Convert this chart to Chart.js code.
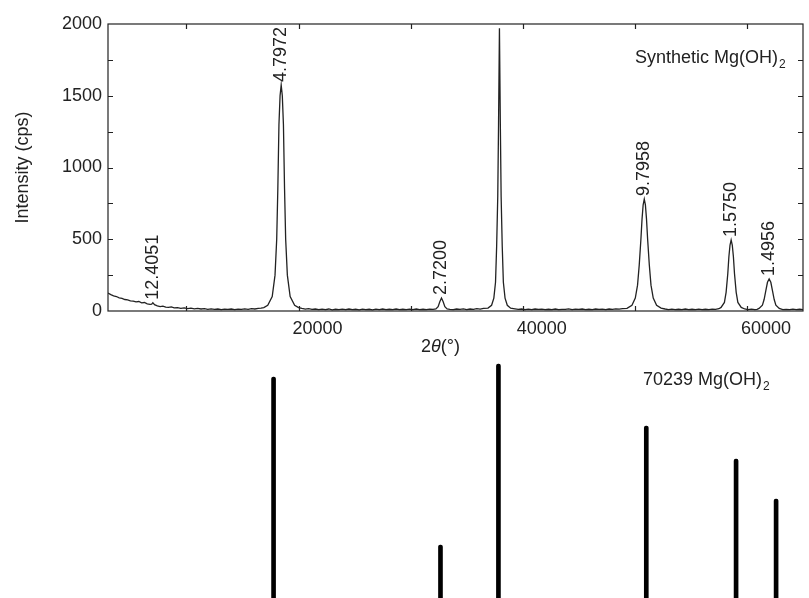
<!DOCTYPE html>
<html>
<head>
<meta charset="utf-8">
<script src="https://cdn.jsdelivr.net/npm/chart.js@4.4.0/dist/chart.umd.min.js"></script>
<style>
  body { margin: 0; background: #fff; }
  #wrap { position: relative; width: 809px; height: 598px; overflow: hidden; }
  #pattern { position: absolute; left: 0; top: 0; }
  #sticks { position: absolute; left: 0; top: 360px; }
</style>
</head>
<body>
<div id="wrap">
  <canvas id="pattern" width="809" height="360"></canvas>
  <canvas id="sticks" width="809" height="238"></canvas>
</div>
<script>
// measured pattern: [2theta x 1000, counts]
const pattern = [
  [3000, 125], [3250, 114], [3500, 106], [3750, 101], [4000, 92], [4250, 88], [4500, 80],
  [4750, 78], [5000, 71], [5250, 69], [5500, 64], [5750, 66], [6000, 57], [6250, 59],
  [6500, 50], [6750, 46], [6900, 48], [7000, 58], [7150, 44], [7400, 36], [7650, 31],
  [7900, 34], [8150, 27], [8400, 25], [8650, 28], [8900, 22], [9200, 24], [9500, 19],
  [9800, 22], [10100, 17], [10400, 20], [10700, 15], [11000, 18], [11300, 14], [11600, 17],
  [11900, 12], [12200, 15], [12500, 11], [12800, 14], [13100, 10], [13400, 13], [13700, 11],
  [14000, 14], [14300, 10], [14600, 13], [14900, 11], [15200, 15], [15500, 12], [15800, 16],
  [16100, 14], [16400, 18], [16650, 20], [16900, 24], [17250, 40], [17650, 100], [17900, 250],
  [18050, 500], [18150, 850], [18250, 1300], [18350, 1500], [18450, 1575], [18550, 1500],
  [18650, 1300], [18750, 850], [18850, 500], [19000, 250], [19250, 100], [19650, 40],
  [20000, 24], [20300, 18], [20600, 13], [20900, 16], [21200, 11], [21500, 14], [21800, 9],
  [22100, 13], [22400, 10], [22700, 14], [23000, 8], [23300, 12], [23600, 10], [23900, 13],
  [24200, 9], [24500, 14], [24800, 10], [25100, 12], [25400, 8], [25700, 13], [26000, 10],
  [26300, 12], [26600, 8], [26900, 13], [27200, 10], [27500, 14], [27800, 9], [28100, 12],
  [28400, 10], [28700, 14], [29000, 9], [29300, 12], [29600, 10], [29900, 13], [30200, 9],
  [30500, 14], [30800, 10], [31100, 12], [31400, 9], [31700, 13], [32000, 11], [32250, 15],
  [32450, 30], [32600, 65], [32750, 90], [32900, 65], [33050, 30], [33250, 15], [33500, 12],
  [33800, 9], [34100, 14], [34400, 11], [34700, 15], [35000, 10], [35300, 14], [35600, 12],
  [35900, 16], [36200, 13], [36500, 18], [36900, 20], [37220, 40], [37420, 90], [37570, 200],
  [37670, 450], [37770, 800], [37840, 1300], [37920, 1970], [38000, 1300], [38070, 800],
  [38170, 450], [38270, 200], [38420, 90], [38620, 40], [38920, 20], [39300, 15], [39600, 11],
  [39900, 14], [40200, 10], [40500, 13], [40800, 9], [41100, 14], [41400, 11], [41700, 13],
  [42000, 9], [42300, 12], [42600, 10], [42900, 14], [43200, 9], [43500, 12], [43800, 11],
  [44100, 15], [44400, 10], [44700, 13], [45000, 11], [45300, 14], [45600, 9], [45900, 12],
  [46200, 10], [46500, 14], [46800, 11], [47100, 13], [47400, 10], [47700, 14], [48000, 12],
  [48300, 15], [48600, 13], [48900, 16], [49300, 18], [49740, 40], [50040, 90], [50240, 180],
  [50390, 320], [50540, 500], [50640, 640], [50740, 740], [50840, 780], [50940, 740],
  [51040, 640], [51140, 500], [51290, 320], [51440, 180], [51640, 90], [51940, 40],
  [52340, 20], [52700, 14], [53000, 10], [53300, 13], [53600, 9], [53900, 12], [54200, 10],
  [54500, 14], [54800, 9], [55100, 12], [55400, 10], [55700, 13], [56000, 9], [56300, 12],
  [56600, 10], [56900, 13], [57200, 12], [57500, 16], [57690, 25], [57990, 60], [58140, 130],
  [58290, 260], [58390, 380], [58490, 460], [58590, 495], [58690, 460], [58790, 380],
  [58890, 260], [59040, 130], [59190, 60], [59490, 25], [59800, 14], [60100, 10], [60400, 13],
  [60700, 9], [60900, 12], [61080, 18], [61380, 40], [61530, 80], [61680, 140], [61830, 200],
  [61980, 223], [62130, 200], [62280, 140], [62430, 80], [62580, 40], [62880, 18], [63200, 10],
  [63500, 12], [63800, 10], [64100, 13], [64400, 9], [64700, 12], [65000, 10],
];

// labelled peaks (d-spacing text at peak position)
const peakLabels = ["12.4051", "4.7972", "2.7200", "9.7958", "1.5750", "1.4956"];
const peakPos = [7000, 18450, 32750, 50840, 58590, 61980];
const peakTop = [58, 1575, 90, 780, 495, 223];

// reference card 70239 sticks
const stickPos = [17770, 32660, 37830, 51020, 59030, 62600];
const stickInt = [94.4, 22.6, 100, 73.5, 59.4, 42.3];

// ticks
const xTickLabels = [20000, 40000, 60000];
const xMinorTicks = [10000, 20000, 30000, 40000, 50000, 60000];
const yTickLabels = [0, 500, 1000, 1500, 2000];
const yMinorTicks = [250, 500, 750, 1000, 1250, 1500, 1750];

const ink = "#222";
const family = "'Liberation Sans', Arial, Helvetica, sans-serif";
const font = { family: family, size: 18 };

function drawChem(ctx, main, sub, x, y) {
  ctx.font = "18px " + family;
  ctx.textAlign = "left";
  ctx.textBaseline = "middle";
  ctx.fillText(main, x, y);
  const w = ctx.measureText(main).width;
  ctx.font = "12px " + family;
  ctx.fillText(sub, x + w + 1, y + 7);
}

const framePlugin = {
  id: "frame",
  afterDraw(chart) {
    const { ctx, chartArea: a, scales: { x, y } } = chart;
    ctx.save();
    ctx.strokeStyle = ink;
    ctx.lineWidth = 1.2;
    ctx.strokeRect(a.left, a.top, a.right - a.left, a.bottom - a.top);
    ctx.beginPath();
    xMinorTicks.forEach((v) => {
      const px = Math.round(x.getPixelForValue(v)) + 0.5;
      ctx.moveTo(px, a.bottom); ctx.lineTo(px, a.bottom - 5);
      ctx.moveTo(px, a.top); ctx.lineTo(px, a.top + 5);
    });
    yMinorTicks.forEach((v) => {
      const py = Math.round(y.getPixelForValue(v)) + 0.5;
      ctx.moveTo(a.left, py); ctx.lineTo(a.left + 5, py);
      ctx.moveTo(a.right, py); ctx.lineTo(a.right - 5, py);
    });
    ctx.stroke();
    ctx.restore();
  },
};

const labelPlugin = {
  id: "labels",
  afterDraw(chart) {
    const { ctx, chartArea: a, scales: { x, y } } = chart;
    ctx.save();
    ctx.fillStyle = ink;
    // peak d-spacings, rotated
    ctx.font = "18px " + family;
    peakLabels.forEach((t, i) => {
      const px = x.getPixelForValue(peakPos[i]);
      const py = y.getPixelForValue(peakTop[i]) - 3;
      ctx.save();
      ctx.translate(px, py);
      ctx.rotate(-Math.PI / 2);
      ctx.textAlign = "left";
      ctx.textBaseline = "middle";
      ctx.fillText(t, 0, 0);
      ctx.restore();
    });
    drawChem(ctx, "Synthetic Mg(OH)", "2", a.right - 168, a.top + 34);

    // x title 2θ(°) with italic theta
    const ty = a.bottom + 36;
    let tx = 421;
    ctx.textAlign = "left";
    ctx.textBaseline = "middle";
    ctx.font = "18px " + family;
    ctx.fillText("2", tx, ty);
    tx += ctx.measureText("2").width;
    ctx.font = "italic 18px " + family;
    ctx.fillText("θ", tx, ty);
    tx += ctx.measureText("θ").width;
    ctx.font = "18px " + family;
    ctx.fillText("(°)", tx, ty);
    ctx.restore();
  },
};

new Chart(document.querySelector("#pattern"), {
  type: "line",
  data: {
    datasets: [
      {
        data: pattern.map((p) => ({ x: p[0], y: p[1] })),
        borderColor: ink,
        borderWidth: 1.3,
        pointRadius: 0,
        tension: 0,
      },
    ],
  },
  options: {
    responsive: false,
    animation: false,
    layout: { padding: { left: 12, top: 24, right: 6, bottom: 0 } },
    plugins: { legend: { display: false }, tooltip: { enabled: false } },
    scales: {
      x: {
        type: "linear",
        min: 3000,
        max: 65000,
        grid: { display: false, drawTicks: false },
        border: { display: false },
        afterBuildTicks: (s) => { s.ticks = xTickLabels.map((v) => ({ value: v })); },
        afterFit: (s) => { s.height = 49; },
        ticks: { font: font, color: ink, padding: 7, labelOffset: 19, maxRotation: 0, callback: (v) => String(v) },
      },
      y: {
        min: 0,
        max: 2000,
        grid: { display: false, drawTicks: false },
        border: { display: false },
        afterBuildTicks: (s) => { s.ticks = yTickLabels.map((v) => ({ value: v })); },
        afterFit: (s) => { s.width = 96; },
        ticks: { font: font, color: ink, padding: 6, callback: (v) => String(v) },
        title: { display: true, text: "Intensity (cps)", font: font, color: ink, padding: 0 },
      },
    },
  },
  plugins: [framePlugin, labelPlugin],
});

// REFERENCE STICK PATTERN

const stickLabel = {
  id: "stickLabel",
  afterDraw(chart) {
    const { ctx, chartArea: a } = chart;
    ctx.save();
    ctx.fillStyle = ink;
    drawChem(ctx, "70239 Mg(OH)", "2", a.right - 160, a.top + 20);
    ctx.restore();
  },
};

new Chart(document.querySelector("#sticks"), {
  type: "bar",
  data: {
    datasets: [
      {
        data: stickPos.map((p, i) => ({ x: p, y: stickInt[i] })),
        backgroundColor: "#000",
        barThickness: 4,
        borderRadius: 2,
        borderSkipped: "start",
      },
    ],
  },
  options: {
    responsive: false,
    animation: false,
    layout: { padding: { left: 108, top: 0, right: 6, bottom: 0 } },
    plugins: { legend: { display: false }, tooltip: { enabled: false } },
    scales: {
      x: { type: "linear", min: 3000, max: 65000, offset: false, display: false },
      y: { min: 0, max: 101.7, display: false },
    },
  },
  plugins: [stickLabel],
});
</script>
</body>
</html>
